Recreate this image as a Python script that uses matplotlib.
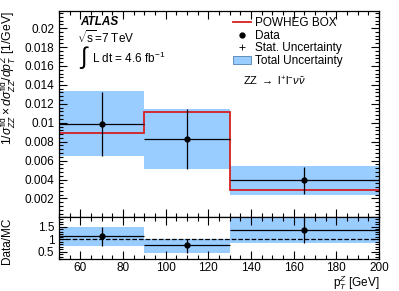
import matplotlib
matplotlib.use("Agg")
import matplotlib.pyplot as plt
import matplotlib.ticker as ticker
from matplotlib.lines import Line2D
from matplotlib.patches import Patch
import numpy as np

plt.rcParams['font.family'] = ['Liberation Sans', 'DejaVu Sans']
plt.rcParams['mathtext.fontset'] = 'custom'
plt.rcParams['mathtext.rm'] = 'Liberation Sans'
plt.rcParams['mathtext.it'] = 'Liberation Sans:italic'

# bins in pT^Z [GeV]
bin_edges = [50, 90, 130, 200]
bin_centers = [70, 110, 165]

# normalised differential cross section [1/GeV]
data_vals = [0.0099, 0.00827, 0.00393]
stat_up = [0.0034, 0.0032, 0.00144]
stat_dn = [0.0034, 0.0032, 0.00151]
tot_up = [0.00343, 0.00323, 0.0015]
tot_dn = [0.00337, 0.00317, 0.00158]
powheg_vals = [0.00895, 0.01116, 0.00287]

# Data/MC ratio
ratio_vals = [1.13, 0.76, 1.36]
ratio_stat_up = [0.37, 0.25, 0.48]
ratio_stat_dn = [0.39, 0.29, 0.52]
ratio_tot_up = [0.37, 0.25, 0.52]
ratio_tot_dn = [0.39, 0.29, 0.52]

band_color = '#99ccff'
red = '#d42020'

fig = plt.figure(figsize=(3.99, 2.91), dpi=100)
ax = fig.add_axes([0.148, 0.253, 0.802, 0.709])
rax = fig.add_axes([0.148, 0.109, 0.802, 0.144], sharex=ax)

lo = np.array(bin_edges[:-1])
hi = np.array(bin_edges[1:])
w = hi - lo

# total uncertainty bands
ax.bar(lo, np.array(tot_up) + np.array(tot_dn), width=w,
       bottom=np.array(data_vals) - np.array(tot_dn), align='edge',
       color=band_color, linewidth=0, zorder=1)
# POWHEG step
ax.stairs(powheg_vals, bin_edges, color=red, linewidth=1.3, baseline=None,
          zorder=2)
# data with stat errors
ax.errorbar(bin_centers, data_vals, yerr=[stat_dn, stat_up],
            xerr=[np.array(bin_centers) - lo, hi - np.array(bin_centers)],
            fmt='o', color='black', markersize=3.5, elinewidth=0.9,
            capsize=0, zorder=3)

ax.set_xlim(50, 200)
ax.set_ylim(0, 0.0218)

ax.yaxis.set_major_locator(ticker.MultipleLocator(0.002))
ax.yaxis.set_minor_locator(ticker.MultipleLocator(0.0004))
ax.yaxis.set_major_formatter(ticker.FuncFormatter(
    lambda v, p: '' if v == 0 else ('%g' % round(v, 4))))
ax.xaxis.set_major_locator(ticker.MultipleLocator(20))
ax.xaxis.set_minor_locator(ticker.MultipleLocator(5))

for a in (ax, rax):
    a.tick_params(which='both', direction='in', top=True, right=True,
                  labelsize=8.5)
    a.tick_params(which='major', length=6, width=0.8)
    a.tick_params(which='minor', length=3, width=0.8)
    for s in a.spines.values():
        s.set_linewidth(0.9)
ax.tick_params(labelbottom=False)
rax.tick_params(axis='x', pad=2)

ax.set_ylabel(r'$1/\sigma^{\rm fid}_{ZZ}\times d\sigma^{\rm fid}_{ZZ}/dp^{Z}_{T}$ [1/GeV]',
              fontsize=8.8, loc='top')
ax.yaxis.set_label_coords(-0.125, 1.0)

# ATLAS labels
ax.text(0.066, 0.945, 'ATLAS', transform=ax.transAxes, fontsize=8.5,
        fontweight='bold', fontstyle='italic', va='center')
ax.text(0.056, 0.87, r'$\sqrt{\rm s}$=7 TeV', transform=ax.transAxes,
        fontsize=8.5, va='center')
ax.text(0.062, 0.775, r'$\int$', transform=ax.transAxes,
        fontsize=17, va='center')
ax.text(0.103, 0.77, r'L dt = 4.6 fb$^{-1}$', transform=ax.transAxes,
        fontsize=8.5, va='center')

handles = [Line2D([], [], color=red, linewidth=1.3),
           Line2D([], [], marker='o', color='black', linestyle='none',
                  markersize=3.5),
           Line2D([], [], marker='+', color='black', linestyle='none',
                  markersize=4, markeredgewidth=0.6),
           Patch(facecolor=band_color, edgecolor='#5080b0', linewidth=0.6)]
labels = ['POWHEG BOX', 'Data', 'Stat. Uncertainty', 'Total Uncertainty']
leg = ax.legend(handles, labels, loc='upper left',
                bbox_to_anchor=(0.52, 1.005), frameon=False, fontsize=8.5,
                handlelength=1.6, handletextpad=0.3, labelspacing=0.05,
                borderaxespad=0.2)
ax.text(0.575, 0.66, r'ZZ $\rightarrow$ l$^{+}$l$^{-}\nu\bar{\nu}$',
        transform=ax.transAxes, fontsize=8, va='center')

# ratio panel
rax.bar(lo, np.array(ratio_tot_up) + np.array(ratio_tot_dn), width=w,
        bottom=np.array(ratio_vals) - np.array(ratio_tot_dn), align='edge',
        color=band_color, linewidth=0, zorder=1)
rax.axhline(1.0, color='black', linestyle='--', linewidth=0.9, zorder=2)
rax.errorbar(bin_centers, ratio_vals, yerr=[ratio_stat_dn, ratio_stat_up],
             xerr=[np.array(bin_centers) - lo, hi - np.array(bin_centers)],
             fmt='o', color='black', markersize=3.5, elinewidth=0.9,
             capsize=0, zorder=3)
rax.set_ylim(0.2, 1.88)
rax.yaxis.set_major_locator(ticker.MultipleLocator(0.5))
rax.yaxis.set_minor_locator(ticker.MultipleLocator(0.1))
rax.yaxis.set_major_formatter(ticker.FuncFormatter(lambda v, p: '%g' % v))
rax.set_ylabel('Data/MC', fontsize=8.5, loc='top')
rax.yaxis.set_label_coords(-0.145, 1.0)
rax.set_xlabel(r'p$^{Z}_{T}$ [GeV]', fontsize=8.5, loc='right', labelpad=-0.5)

fig.savefig('out.png', dpi=100)
